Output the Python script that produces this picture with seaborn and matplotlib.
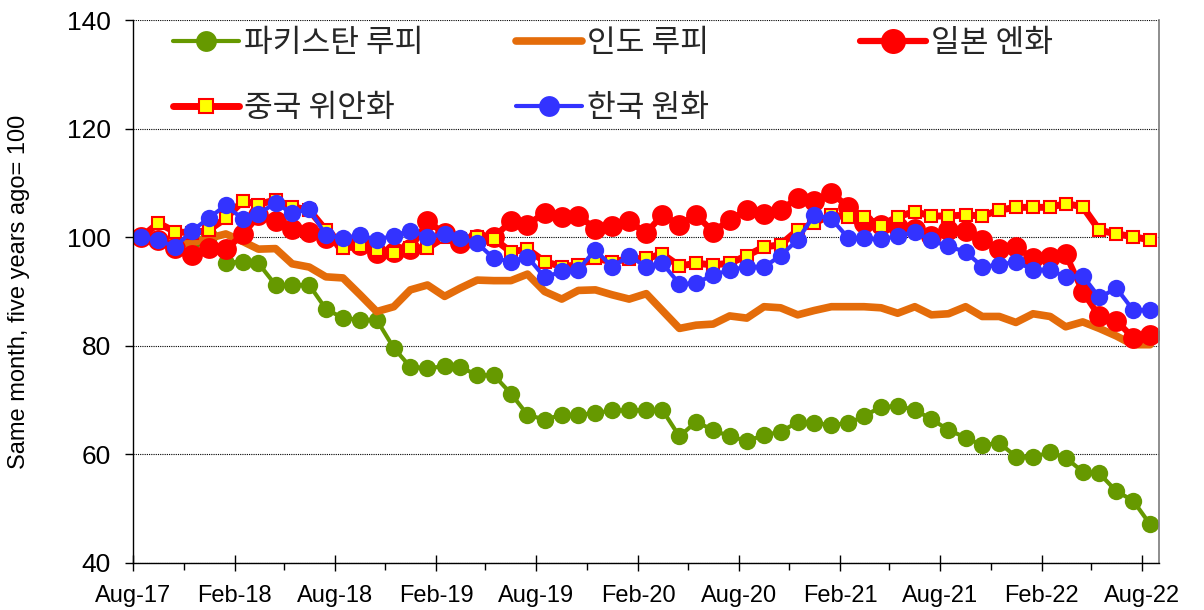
import pandas as pd
import seaborn as sns
import matplotlib.pyplot as plt
import matplotlib.dates as mdates

# monthly points, Aug-17 .. Aug-22 (plotted mid-month)
months = pd.date_range("2017-08-01", periods=61, freq="MS") + pd.Timedelta(days=15)

pakistan = [100, 99.6, 99.2, 99.3, 100.2, 95.3, 95.5, 95.2, 91.2, 91.2,
            91.2, 86.8, 85.1, 84.8, 84.8, 79.6, 76.1, 75.9, 76.2, 76.1,
            74.6, 74.6, 71.2, 67.3, 66.4, 67.3, 67.3, 67.6, 68.1, 68.1,
            68.2, 68.2, 63.3, 66.0, 64.5, 63.3, 62.5, 63.5, 64.2, 65.9,
            65.7, 65.5, 65.7, 67.1, 68.7, 68.9, 68.2, 66.5, 64.5, 63.1,
            61.7, 62.1, 59.6, 59.5, 60.4, 59.4, 56.8, 56.5, 53.2, 51.5,
            47.1]
india = [100, 99.5, 98.8, 99.0, 99.8, 100.6, 99.2, 97.8, 97.9, 95.1,
         94.5, 92.7, 92.5, 89.4, 86.3, 87.2, 90.3, 91.2, 89.1, 90.6,
         92.1, 92.0, 92.0, 93.2, 90.0, 88.6, 90.2, 90.3, 89.4, 88.6,
         89.6, 86.5, 83.2, 83.8, 84.0, 85.5, 85.1, 87.2, 87.0, 85.7,
         86.5, 87.2, 87.2, 87.2, 87.0, 86.0, 87.2, 85.7, 85.9, 87.2,
         85.4, 85.4, 84.3, 85.9, 85.4, 83.5, 84.4, 83.2, 81.8, 80.2,
         80.2]
japan = [100, 99.5, 98.0, 96.8, 98.0, 97.8, 100.5, 104.0, 102.9, 101.6,
         101.0, 99.8, 99.3, 98.5, 97.0, 97.3, 97.8, 102.9, 100.7, 98.9,
         99.6, 100.0, 102.9, 102.3, 104.5, 103.7, 103.9, 101.6, 102.1, 102.9,
         100.8, 104.1, 102.3, 104.1, 101.0, 103.2, 105.0, 104.3, 105.0, 107.2,
         106.6, 108.1, 105.6, 102.6, 102.3, 101.8, 101.6, 100.2, 101.3, 101.2,
         99.5, 97.8, 98.2, 96.1, 96.4, 96.9, 90.0, 85.4, 84.6, 81.5,
         82.0]
china = [100, 102.6, 101.0, 100.8, 101.3, 103.5, 106.7, 106.0, 106.9, 105.6,
         105.0, 101.3, 98.0, 98.3, 97.7, 97.0, 98.0, 98.0, 100.0, 99.6,
         100.1, 99.7, 97.3, 97.8, 95.5, 94.6, 94.9, 96.1, 95.5, 96.0,
         96.1, 96.9, 94.7, 95.2, 94.9, 95.2, 96.6, 98.2, 98.6, 101.3,
         102.6, 104.1, 103.7, 103.7, 102.1, 103.8, 104.7, 103.9, 103.9, 104.1,
         103.9, 105.0, 105.5, 105.5, 105.5, 106.2, 105.6, 101.3, 100.6, 100.1,
         99.5]
korea = [100, 99.5, 98.2, 101.2, 103.5, 105.9, 103.3, 104.3, 106.3, 104.4,
         105.2, 100.4, 99.8, 100.4, 99.5, 100.3, 101.2, 100.1, 100.5, 99.9,
         98.9, 96.1, 95.5, 96.4, 92.6, 93.7, 94.0, 97.7, 94.5, 96.6,
         94.5, 95.2, 91.4, 91.5, 93.1, 93.9, 94.6, 94.5, 96.6, 99.5,
         104.1, 103.4, 99.8, 99.8, 99.6, 100.2, 101.0, 99.4, 98.3, 97.3,
         94.6, 94.9, 95.5, 94.0, 94.0, 92.7, 92.9, 88.9, 90.6, 86.6,
         86.6]

labels = ["파키스탄 루피", "인도 루피", "일본 엔화", "중국 위안화", "한국 원화"]

sns.set_theme(style="ticks")
plt.rcParams['font.family'] = ['Liberation Sans', 'Noto Sans CJK KR']

fig = plt.figure(figsize=(12.04, 6.10), dpi=100)
ax = fig.add_axes([133 / 1204, 1 - 563 / 610, (1159 - 133) / 1204, (563 - 20) / 610])

sns.lineplot(x=months, y=pakistan, ax=ax, color="#669900", linewidth=3,
             marker="o", markersize=12.5, markeredgecolor="#669900",
             markeredgewidth=0, label=labels[0])
sns.lineplot(x=months, y=india, ax=ax, color="#E46C0A", linewidth=5.5,
             solid_capstyle="round", label=labels[1])
sns.lineplot(x=months, y=japan, ax=ax, color="#FF0000", linewidth=4.5,
             marker="o", markersize=15, markeredgecolor="#FF0000",
             markeredgewidth=0, label=labels[2])
sns.lineplot(x=months, y=china, ax=ax, color="#FF0000", linewidth=5,
             marker="s", markersize=8.5, markerfacecolor="#FFFF00",
             markeredgecolor="#FF0000", markeredgewidth=1.5, label=labels[3])
sns.lineplot(x=months, y=korea, ax=ax, color="#3333FF", linewidth=3,
             marker="o", markersize=12.5, markeredgecolor="#3333FF",
             markeredgewidth=0, label=labels[4])
ax.get_legend().remove()
lines = ax.get_lines()

ax.set_ylim(40, 140)
ax.set_yticks([40, 60, 80, 100, 120, 140])
ax.set_xlim(pd.Timestamp("2017-08-01"), pd.Timestamp("2022-09-01"))
ax.xaxis.set_major_locator(mdates.MonthLocator(bymonth=(2, 8)))
ax.xaxis.set_minor_locator(mdates.MonthLocator(bymonth=(5, 11)))
ax.xaxis.set_major_formatter(mdates.DateFormatter("%b-%y"))

ax.yaxis.grid(True, color="black", linestyle=(0, (1, 1)), linewidth=0.8)
ax.set_axisbelow(True)
ax.spines["top"].set_visible(False)
ax.spines["right"].set_color("#808080")
for s in ["left", "bottom"]:
    ax.spines[s].set_color("black")
    ax.spines[s].set_linewidth(1)

ax.tick_params(axis="y", direction="out", length=6, width=1, labelsize=19,
               pad=10, colors="black")
ax.tick_params(axis="x", which="major", direction="inout", length=12, width=1,
               labelsize=17, pad=10, colors="black")
ax.tick_params(axis="x", which="minor", direction="out", length=5, width=1,
               colors="black")

ax.set_xlabel("")
ax.set_ylabel("Same month, five years ago= 100", fontsize=17, color="black")
ax.yaxis.set_label_coords(-0.100, 0.5)

leg_font = {"family": ["Noto Sans CJK KR", "DejaVu Sans"], "size": 22.5}
columns = [([0, 3], 173), ([1, 4], 516), ([2], 860)]
for idx, xpix in columns:
    fig.legend([lines[i] for i in idx], [labels[i] for i in idx],
               loc="upper left", bbox_to_anchor=(xpix / 1204, 1 - 27 / 610),
               frameon=False, prop=leg_font, handlelength=2.1,
               handletextpad=0.17, labelspacing=1.05, borderpad=0,
               borderaxespad=0, numpoints=1, markerscale=1.2)

plt.savefig("out.png", dpi=100)
